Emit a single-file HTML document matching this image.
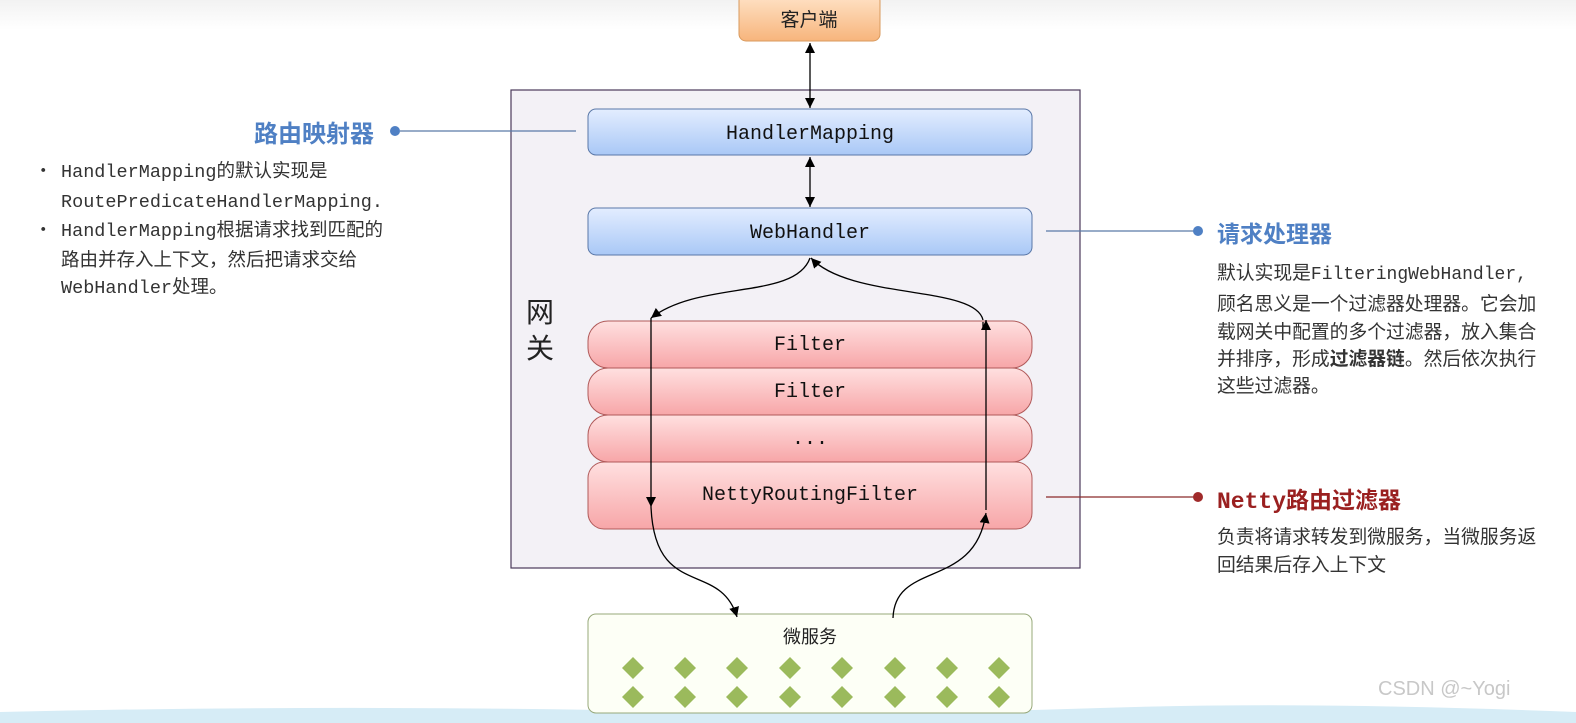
<!DOCTYPE html>
<html><head><meta charset="utf-8"><style>
html,body{margin:0;padding:0;background:#fff;}
body{width:1576px;height:723px;overflow:hidden;position:relative;font-family:"Liberation Sans","Noto Sans CJK SC",sans-serif;}
svg{position:absolute;left:0;top:0;}
.t{position:absolute;white-space:nowrap;font-family:"Noto Sans CJK SC",sans-serif;color:#333;}
.m{font-family:"Liberation Mono",monospace;font-size:18.5px;}
.t div{position:relative;}
</style></head><body>
<svg width="1576" height="723" viewBox="0 0 1576 723">
<defs>
<linearGradient id="gb" x1="0" y1="0" x2="0" y2="1"><stop offset="0" stop-color="#e3edff"/><stop offset="1" stop-color="#a9c8f6"/></linearGradient>
<linearGradient id="gr" x1="0" y1="0" x2="0" y2="1"><stop offset="0" stop-color="#ffe0e0"/><stop offset="1" stop-color="#f7a6a8"/></linearGradient>
<linearGradient id="go" x1="0" y1="0" x2="0" y2="1"><stop offset="0" stop-color="#ffe3c8"/><stop offset="1" stop-color="#f7b57c"/></linearGradient>
<linearGradient id="gt" x1="0" y1="0" x2="0" y2="1"><stop offset="0" stop-color="#f2f2f2"/><stop offset="1" stop-color="#fff"/></linearGradient>
<marker id="a" viewBox="0 0 10 10" refX="10" refY="5" markerWidth="10" markerHeight="10" orient="auto-start-reverse" markerUnits="userSpaceOnUse"><path d="M0,0 L10,5 L0,10 z" fill="#000"/></marker>
</defs>
<rect x="0" y="0" width="1576" height="30" fill="url(#gt)"/>
<path d="M0,712 Q300,705 600,710 T1100,708 T1576,712 L1576,723 L0,723z" fill="#d6ecf6"/>
<rect x="739" y="-6" width="141" height="47" rx="7" fill="url(#go)" stroke="#d89a5e"/>
<text x="809" y="26" font-size="19" text-anchor="middle" font-family="Noto Sans CJK SC" fill="#222">客户端</text>
<rect x="511" y="90" width="569" height="478" fill="#f3f1f6" stroke="#4a3a5a" stroke-width="1.2"/>
<text x="540" y="322" font-size="28" text-anchor="middle" font-family="Noto Sans CJK SC" fill="#222">网</text>
<text x="540" y="358" font-size="28" text-anchor="middle" font-family="Noto Sans CJK SC" fill="#222">关</text>
<rect x="588" y="109" width="444" height="46" rx="8" fill="url(#gb)" stroke="#5a78a8"/>
<text x="810" y="139" font-size="20" text-anchor="middle" font-family="Liberation Mono, DejaVu Sans Mono" fill="#111">HandlerMapping</text>
<rect x="588" y="208" width="444" height="47" rx="8" fill="url(#gb)" stroke="#5a78a8"/>
<text x="810" y="238" font-size="20" text-anchor="middle" font-family="Liberation Mono, DejaVu Sans Mono" fill="#111">WebHandler</text>
<rect x="588" y="462" width="444" height="67" rx="16" fill="url(#gr)" stroke="#b05a5a"/>
<rect x="588" y="415" width="444" height="47" rx="20" fill="url(#gr)" stroke="#b05a5a"/>
<rect x="588" y="368" width="444" height="47" rx="20" fill="url(#gr)" stroke="#b05a5a"/>
<rect x="588" y="321" width="444" height="47" rx="20" fill="url(#gr)" stroke="#b05a5a"/>
<g font-size="20" text-anchor="middle" font-family="Liberation Mono, DejaVu Sans Mono" fill="#111">
<text x="810" y="350">Filter</text><text x="810" y="397">Filter</text><text x="810" y="444">...</text><text x="810" y="500">NettyRoutingFilter</text></g>
<rect x="588" y="614" width="444" height="99" rx="8" fill="#fdfff6" stroke="#97a87a"/>
<text x="810" y="643" font-size="18" text-anchor="middle" font-family="Noto Sans CJK SC" fill="#222">微服务</text>
<g fill="#9bba5c">
<g id="row"><path d="M633,657 l11,11 l-11,11 l-11,-11z"/><path d="M685,657 l11,11 l-11,11 l-11,-11z"/><path d="M737,657 l11,11 l-11,11 l-11,-11z"/><path d="M790,657 l11,11 l-11,11 l-11,-11z"/><path d="M842,657 l11,11 l-11,11 l-11,-11z"/><path d="M895,657 l11,11 l-11,11 l-11,-11z"/><path d="M947,657 l11,11 l-11,11 l-11,-11z"/><path d="M999,657 l11,11 l-11,11 l-11,-11z"/></g>
<use href="#row" y="29"/></g>
<g stroke="#000" stroke-width="1.3" fill="none">
<line x1="810" y1="43" x2="810" y2="108" marker-start="url(#a)" marker-end="url(#a)"/>
<line x1="810" y1="157" x2="810" y2="207" marker-start="url(#a)" marker-end="url(#a)"/>
<path d="M810,258 C795,300 700,280 651,318" marker-end="url(#a)"/>
<path d="M983,320 C975,285 850,300 811,258" marker-end="url(#a)"/>
<line x1="651" y1="318" x2="651" y2="507" marker-end="url(#a)"/>
<line x1="983" y1="322" x2="983" y2="328"/>
<line x1="986" y1="510" x2="986" y2="320" marker-end="url(#a)"/>
<path d="M651,507 C655,600 720,560 737,617" marker-end="url(#a)"/>
<path d="M893,618 C895,560 975,590 986,513" marker-end="url(#a)"/>
</g>
<line x1="400" y1="131" x2="576" y2="131" stroke="#5a7aa8" stroke-width="1.2"/>
<circle cx="395" cy="131" r="5" fill="#4f80c4"/>
<line x1="1046" y1="231" x2="1195" y2="231" stroke="#5a7aa8" stroke-width="1.2"/>
<circle cx="1198" cy="231" r="5" fill="#4f80c4"/>
<line x1="1046" y1="497" x2="1195" y2="497" stroke="#8a2a2a" stroke-width="1.2"/>
<circle cx="1198" cy="497" r="5" fill="#a02a2a"/>
</svg>
<div class="t" style="left:254px;top:114px;font-size:24px;font-weight:bold;color:#4f80c4;">路由映射器</div>
<div class="t" style="left:1217px;top:215px;font-size:23px;font-weight:bold;color:#4f80c4;">请求处理器</div>
<div class="t" style="left:1217px;top:481px;font-size:23px;font-weight:bold;color:#9a2020;"><span style="font-family:'Liberation Mono',monospace;">Netty</span>路由过滤器</div>
<div class="t" style="left:34px;top:157px;font-size:18.5px;line-height:27.5px;">
<div><span style="position:absolute;left:0">•</span><span style="margin-left:27px" class="m">HandlerMapping</span>的默认实现是</div>
<div><span style="margin-left:27px" class="m">RoutePredicateHandlerMapping.</span></div>
<div><span style="position:absolute;left:0">•</span><span style="margin-left:27px" class="m">HandlerMapping</span>根据请求找到匹配的</div>
<div><span style="margin-left:27px">路由并存入上下文，然后把请求交给</span></div>
<div><span style="margin-left:27px" class="m">WebHandler</span>处理。</div></div>
<div class="t" style="left:1217px;top:258px;font-size:18.8px;line-height:27.3px;">
<div>默认实现是<span class="m" style="font-size:18px">FilteringWebHandler,</span></div>
<div>顾名思义是一个过滤器处理器。它会加</div>
<div>载网关中配置的多个过滤器，放入集合</div>
<div>并排序，形成<b>过滤器链</b>。然后依次执行</div>
<div>这些过滤器。</div></div>
<div class="t" style="left:1217px;top:522px;font-size:18.8px;line-height:28px;">
<div>负责将请求转发到微服务，当微服务返</div>
<div>回结果后存入上下文</div></div>
<div class="t" style="left:1378px;top:678px;font-size:20px;color:#c8c8c8;font-family:'Liberation Sans',sans-serif;">CSDN @~Yogi</div>
</body></html>
